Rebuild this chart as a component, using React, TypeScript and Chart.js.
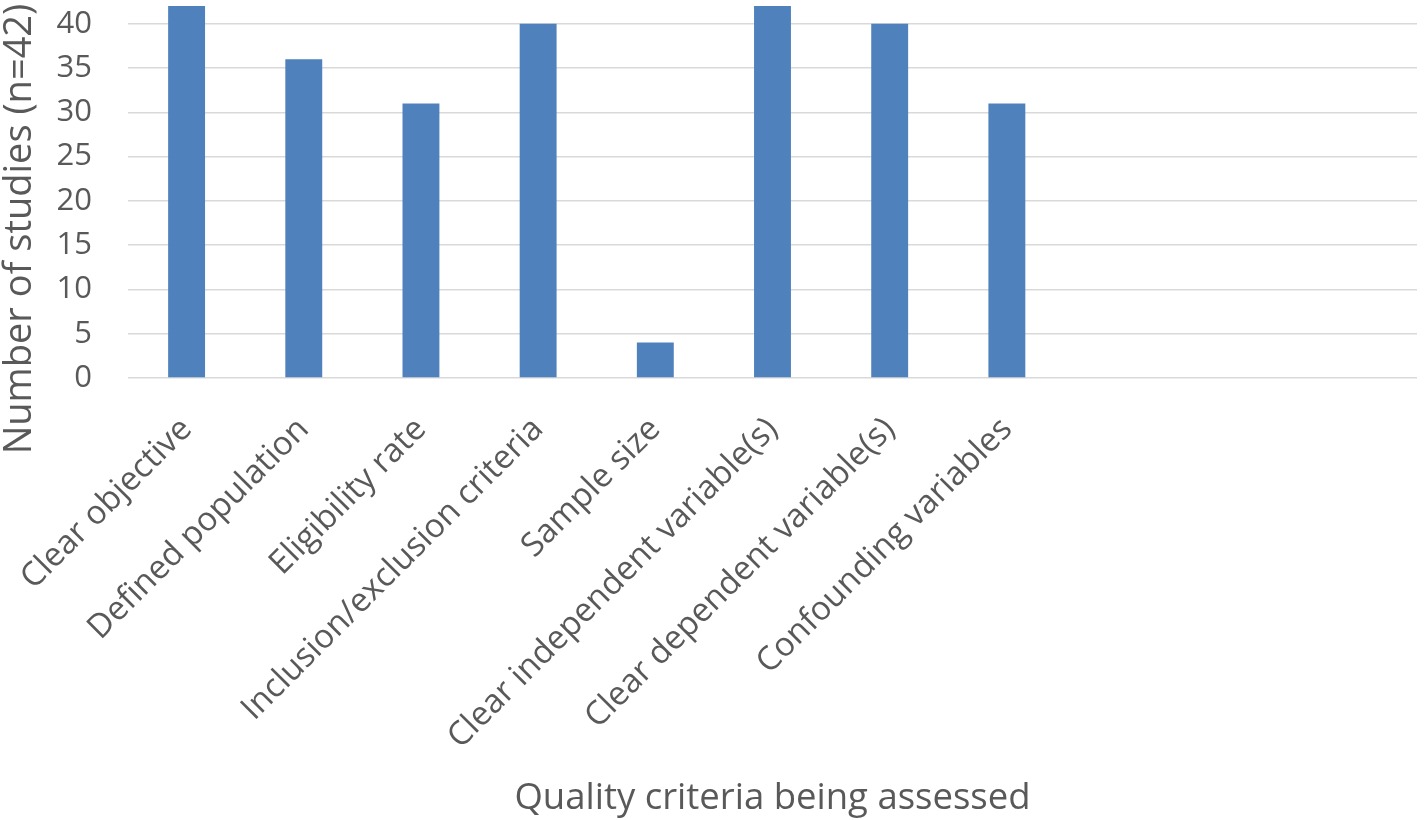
import React, { useEffect, useRef } from "react";
import { Chart, registerables } from "chart.js";

Chart.register(...registerables);

const categories = [
  "Clear objective",
  "Defined population",
  "Eligibility rate",
  "Inclusion/exclusion criteria",
  "Sample size",
  "Clear independent variable(s)",
  "Clear dependent variable(s)",
  "Confounding variables",
  "",
  "",
  "",
];
const studyCounts = [42, 36, 31, 40, 4, 42, 40, 31, null, null, null];
const yTickValues = [0, 5, 10, 15, 20, 25, 30, 35, 40];
const yTitle = "Number of studies (n=42)";
const xTitle = "Quality criteria being assessed";

const FONT = "'Open Sans', sans-serif";
const TEXT = "#595959";
const W = 1424;
const H = 820;

const titlesPlugin = {
  id: "customTitles",
  afterDraw(chart: any) {
    const ctx = chart.ctx;
    ctx.save();
    ctx.fillStyle = TEXT;
    ctx.font = `38px ${FONT}`;
    ctx.textAlign = "center";
    ctx.textBaseline = "middle";
    ctx.translate(20, 229);
    ctx.rotate(-Math.PI / 2);
    ctx.fillText(yTitle, 0, 0);
    ctx.restore();
    ctx.save();
    ctx.fillStyle = TEXT;
    ctx.font = `36.5px ${FONT}`;
    ctx.textAlign = "center";
    ctx.textBaseline = "middle";
    const ca = chart.chartArea;
    ctx.fillText(xTitle, (ca.left + ca.right) / 2, 799);
    ctx.restore();
  },
};

export default function App() {
  const ref = useRef<HTMLCanvasElement>(null);
  useEffect(() => {
    if (!ref.current) return;
    const chart = new Chart(ref.current, {
      type: "bar",
      data: {
        labels: categories,
        datasets: [
          {
            data: studyCounts as any,
            backgroundColor: "#4F81BD",
            borderWidth: 0,
            categoryPercentage: 1,
            barPercentage: 0.315,
          },
        ],
      },
      plugins: [titlesPlugin],
      options: {
        animation: false,
        responsive: false,
        maintainAspectRatio: false,
        layout: { padding: { left: 0, right: 7, top: 6, bottom: 0 } },
        plugins: { legend: { display: false }, tooltip: { enabled: false } },
        scales: {
          x: {
            grid: { display: false, drawTicks: false },
            border: { display: false },
            ticks: {
              color: TEXT,
              font: { family: FONT, size: 33 },
              maxRotation: 45,
              minRotation: 45,
              autoSkip: false,
              padding: 32,
            },
            afterFit: (scale: any) => {
              scale.height = H - 378;
              scale.paddingLeft = 0;
              scale.paddingRight = 0;
            },
          },
          y: {
            min: 0,
            max: 42,
            afterBuildTicks: (scale: any) => {
              scale.ticks = yTickValues.map((v) => ({ value: v }));
            },
            grid: { color: "#D9D9D9", lineWidth: 1.5, drawTicks: false },
            border: { display: false },
            ticks: {
              color: TEXT,
              font: { family: FONT, size: 31 },
              padding: 36,
            },
            afterFit: (scale: any) => {
              scale.width = 128;
              scale.paddingTop = 0;
              scale.paddingBottom = 0;
            },
          },
        },
      },
    });
    return () => chart.destroy();
  }, []);
  return (
    <div style={{ position: "fixed", left: 0, top: 0, width: W, height: H, background: "#fff" }}>
      <canvas ref={ref} width={W} height={H} />
    </div>
  );
}
